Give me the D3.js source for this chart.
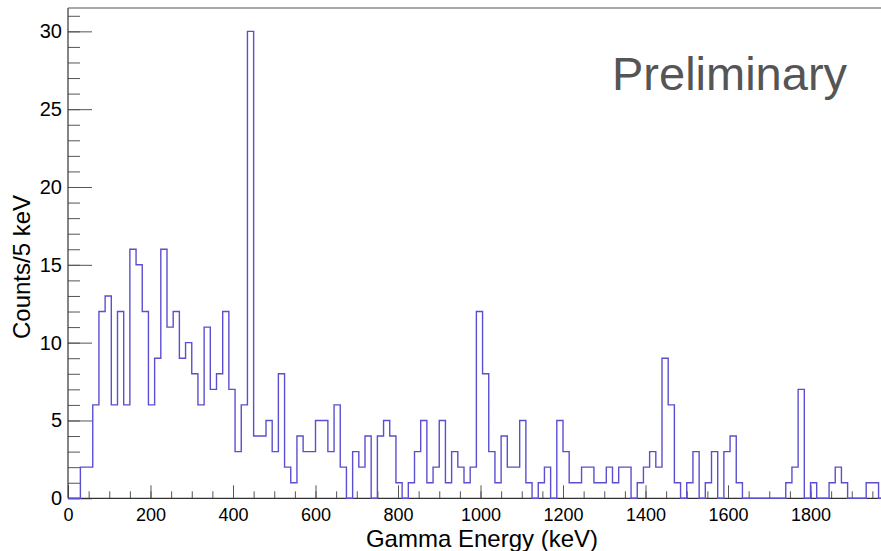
<!DOCTYPE html>
<html>
<head>
<meta charset="utf-8">
<script src="https://cdn.jsdelivr.net/npm/d3@7"></script>
<style>
  html, body { margin: 0; padding: 0; background: #fff; }
  svg { display: block; font-family: "Liberation Sans", Arial, Helvetica, sans-serif; }
</style>
</head>
<body>
<svg id="chart" width="881" height="551"></svg>
<script>
// Gamma spectrum, 15 keV bins starting at 0 keV
const binWidth = 15;
const counts = [
  0, 0, 2, 2, 6, 12, 13, 6, 12, 6,
  16, 15, 12, 6, 9, 16, 11, 12, 9, 10,
  8, 6, 11, 7, 8, 12, 7, 3, 6, 30,
  4, 4, 5, 3, 8, 2, 1, 4, 3, 3,
  5, 5, 3, 6, 2, 0, 3, 2, 4, 0,
  4, 5, 4, 1, 0, 1, 3, 5, 1, 2,
  5, 1, 3, 2, 1, 2, 12, 8, 3, 1,
  4, 2, 2, 5, 1, 0, 1, 2, 0, 5,
  3, 1, 1, 2, 2, 1, 1, 2, 1, 2,
  2, 0, 1, 2, 3, 2, 9, 6, 1, 0,
  1, 3, 0, 1, 3, 0, 3, 4, 1, 0,
  0, 0, 0, 0, 0, 0, 1, 2, 7, 0,
  1, 0, 0, 1, 2, 1, 0, 0, 0, 1,
  1, 0
];
const xMajorTicks = [0, 200, 400, 600, 800, 1000, 1200, 1400, 1600, 1800];
const xMinorTicks = d3.range(0, 2000, 50);
const yMajorTicks = [0, 5, 10, 15, 20, 25, 30];
const yMinorTicks = d3.range(0, 32, 1);
const xDomain = [0, 2000];
const yDomain = [0, 31.5];

const svg = d3.select("#chart");
const plot = { left: 68, top: 8, right: 893, bottom: 498.3 };

const x = d3.scaleLinear().domain(xDomain).range([plot.left, plot.right]);
const y = d3.scaleLinear().domain(yDomain).range([plot.bottom, plot.top]);

svg.append("defs").append("clipPath").attr("id", "plotClip")
  .append("rect")
  .attr("x", plot.left).attr("y", plot.top - 1)
  .attr("width", plot.right - plot.left).attr("height", plot.bottom - plot.top + 2);

// Step outline of the histogram
const pts = [[0, 0]];
counts.forEach((c, i) => {
  pts.push([i * binWidth, c]);
  pts.push([(i + 1) * binWidth, c]);
});
pts.push([counts.length * binWidth, 0]);

// Minor ticks (drawn inward)
const xMinor = svg.append("g")
  .attr("transform", `translate(0,${plot.bottom})`)
  .call(d3.axisBottom(x).tickValues(xMinorTicks).tickSize(-7).tickFormat(""));
const yMinor = svg.append("g")
  .attr("transform", `translate(${plot.left},0)`)
  .call(d3.axisLeft(y).tickValues(yMinorTicks).tickSize(-12).tickFormat(""));

// Major ticks with labels
const xAxis = svg.append("g")
  .attr("transform", `translate(0,${plot.bottom})`)
  .call(d3.axisBottom(x).tickValues(xMajorTicks).tickSize(-13).tickPadding(10).tickFormat(d3.format("d")));
const yAxis = svg.append("g")
  .attr("transform", `translate(${plot.left},0)`)
  .call(d3.axisLeft(y).tickValues(yMajorTicks).tickSize(-24).tickPadding(6).tickFormat(d3.format("d")));

[xMinor, yMinor, xAxis, yAxis].forEach(g => {
  g.select(".domain").remove();
  g.selectAll(".tick line").attr("stroke", "#555").attr("stroke-width", 1);
});
xAxis.selectAll(".tick text").attr("font-size", 18).attr("fill", "#000")
  .attr("font-family", "'Liberation Sans', Arial, Helvetica, sans-serif");
yAxis.selectAll(".tick text").attr("font-size", 20).attr("fill", "#000")
  .attr("font-family", "'Liberation Sans', Arial, Helvetica, sans-serif");

// Frame: left axis, bottom axis, top edge
svg.append("line").attr("x1", plot.left).attr("x2", plot.left)
  .attr("y1", plot.top).attr("y2", plot.bottom)
  .attr("stroke", "#333").attr("stroke-width", 1.2);
svg.append("line").attr("x1", plot.left).attr("x2", plot.right)
  .attr("y1", plot.bottom).attr("y2", plot.bottom)
  .attr("stroke", "#333").attr("stroke-width", 1.2);
svg.append("line").attr("x1", plot.left).attr("x2", plot.right)
  .attr("y1", plot.top).attr("y2", plot.top)
  .attr("stroke", "#555").attr("stroke-width", 1.2);

// Histogram
svg.append("path")
  .datum(pts)
  .attr("clip-path", "url(#plotClip)")
  .attr("fill", "none")
  .attr("stroke", "#5a4fd0")
  .attr("stroke-width", 1.4)
  .attr("stroke-linejoin", "miter")
  .attr("d", d3.line().x(d => x(d[0])).y(d => y(d[1])));

// Axis titles
svg.append("text")
  .attr("x", 482).attr("y", 547)
  .attr("text-anchor", "middle")
  .attr("font-size", 24)
  .attr("fill", "#000")
  .text("Gamma Energy (keV)");

svg.append("text")
  .attr("transform", "translate(30,267) rotate(-90)")
  .attr("text-anchor", "middle")
  .attr("font-size", 24)
  .attr("fill", "#000")
  .text("Counts/5 keV");

// Watermark label
svg.append("text")
  .attr("x", 612).attr("y", 90)
  .attr("font-size", 47)
  .attr("fill", "#555")
  .text("Preliminary");
</script>
</body>
</html>
